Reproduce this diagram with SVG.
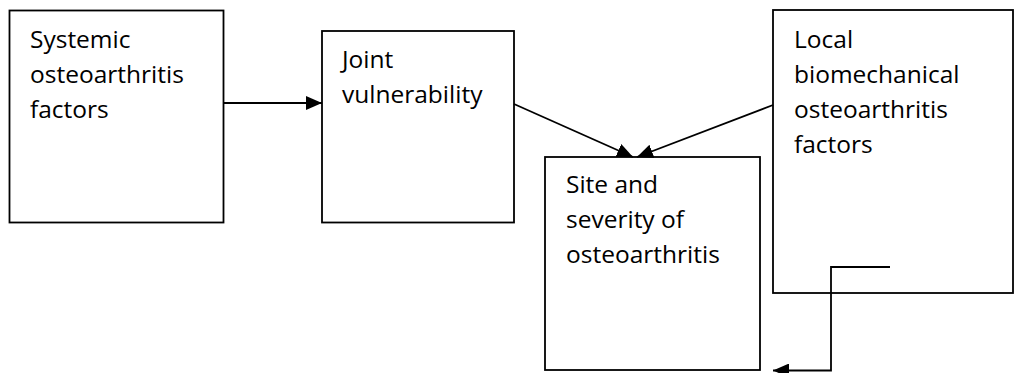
<svg xmlns="http://www.w3.org/2000/svg" width="1015" height="373" viewBox="0 0 1015 373">
<style>
.box{fill:#fff;stroke:#000;stroke-width:1.8}
.t{font-family:"Open Sans","Liberation Sans",sans-serif;font-size:24.5px;fill:#000}
.c{fill:none;stroke:#000;stroke-width:1.8}
</style>
<defs>
<marker id="ah" markerUnits="userSpaceOnUse" markerWidth="16" markerHeight="14" viewBox="0 0 16 14" refX="16" refY="7" orient="auto">
<path d="M0,0 L16,7 L0,14 Z" fill="#000"/>
</marker>
</defs>
<rect width="1015" height="373" fill="#fff"/>
<g id="systemic">
<rect class="box" x="9.5" y="10.5" width="214" height="212"/>
<text class="t" x="30" y="48">Systemic</text>
<text class="t" x="30" y="83">osteoarthritis</text>
<text class="t" x="30" y="118">factors</text>
</g>
<g id="joint">
<rect class="box" x="322" y="31" width="192" height="191.5"/>
<text class="t" x="342" y="68">Joint</text>
<text class="t" x="342" y="103">vulnerability</text>
</g>
<g id="site">
<rect class="box" x="545" y="157" width="215" height="213"/>
<text class="t" x="566" y="193">Site and</text>
<text class="t" x="566" y="228">severity of</text>
<text class="t" x="566" y="263">osteoarthritis</text>
</g>
<g id="local">
<rect class="box" x="773" y="10" width="240" height="283"/>
<text class="t" x="794" y="48">Local</text>
<text class="t" x="794" y="83">biomechanical</text>
<text class="t" x="794" y="118">osteoarthritis</text>
<text class="t" x="794" y="153">factors</text>
</g>
<g id="connectors">
<line class="c" x1="224" y1="103" x2="322" y2="103" marker-end="url(#ah)"/>
<line class="c" x1="514" y1="104" x2="633" y2="157" marker-end="url(#ah)"/>
<line class="c" x1="773" y1="105" x2="637" y2="157" marker-end="url(#ah)"/>
<polyline class="c" points="890,267 831,267 831,370.5 773,370.5" marker-end="url(#ah)"/>
</g>
</svg>
